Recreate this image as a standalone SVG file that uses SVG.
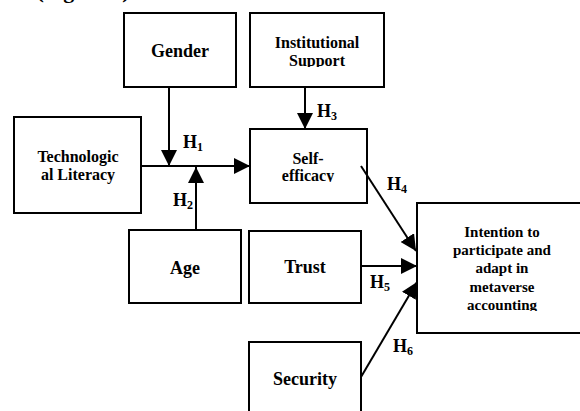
<svg xmlns="http://www.w3.org/2000/svg" width="580" height="411" viewBox="0 0 580 411">
<style>
.box{fill:#fff;stroke:#000;stroke-width:2}
.t{font-family:"Liberation Serif","Times New Roman",serif;font-weight:bold;fill:#000;text-anchor:middle}
.big{font-size:18px}
.mid{font-size:16px}
.sm{font-size:15px}
.lab{font-family:"Liberation Serif","Times New Roman",serif;font-weight:bold;font-size:18px;fill:#000}
.sub{font-size:12px}
.ln{stroke:#000;stroke-width:2;fill:none}
</style>
<defs>
<marker id="ah" markerUnits="userSpaceOnUse" markerWidth="16" markerHeight="16" refX="16" refY="8" orient="auto" viewBox="0 0 16 16">
<path d="M0,0 L16,8 L0,16 z" fill="#000"/>
</marker>
<clipPath id="c1"><rect x="250" y="13" width="134" height="54"/></clipPath>
<clipPath id="c2"><rect x="250" y="129" width="117" height="53"/></clipPath>
<clipPath id="c3"><rect x="417" y="203" width="163" height="108"/></clipPath>
</defs>
<text class="t" x="83" y="-2" style="font-size:22px">(Figure 1)</text>
<g id="gender"><rect class="box" x="124" y="13" width="112" height="74"/><text class="t big" x="180" y="57">Gender</text></g>
<g id="institutional-support"><rect class="box" x="250" y="13" width="134" height="74"/><g clip-path="url(#c1)"><text class="t mid" x="317" y="48">Institutional</text><text class="t mid" x="317" y="66">Support</text></g></g>
<g id="tech-literacy"><rect class="box" x="14" y="117" width="127" height="96"/><text class="t mid" x="78" y="162">Technologic</text><text class="t mid" x="78" y="180">al Literacy</text></g>
<g id="self-efficacy"><rect class="box" x="250" y="129" width="117" height="74"/><g clip-path="url(#c2)"><text class="t mid" x="308" y="164">Self-</text><text class="t mid" x="308" y="181">efficacy</text></g></g>
<g id="age"><rect class="box" x="129" y="230" width="112" height="73"/><text class="t big" x="185" y="274">Age</text></g>
<g id="trust"><rect class="box" x="249" y="231" width="112" height="72"/><text class="t big" x="305" y="273">Trust</text></g>
<g id="security"><rect class="box" x="249" y="342" width="112" height="80"/><text class="t big" x="305" y="385">Security</text></g>
<g id="intention"><rect class="box" x="417" y="203" width="170" height="130"/><g clip-path="url(#c3)"><text class="t sm" x="502" y="237">Intention to</text><text class="t sm" x="502" y="255">participate and</text><text class="t sm" x="502" y="273">adapt in</text><text class="t sm" x="502" y="292">metaverse</text><text class="t sm" x="502" y="310">accounting</text></g></g>
<g id="connectors">
<line class="ln" x1="141" y1="166" x2="250" y2="166" marker-end="url(#ah)"/>
<line class="ln" x1="169" y1="87" x2="169" y2="166" marker-end="url(#ah)"/>
<line class="ln" x1="196" y1="230" x2="196" y2="167" marker-end="url(#ah)"/>
<line class="ln" x1="305" y1="87" x2="305" y2="129" marker-end="url(#ah)"/>
<line class="ln" x1="361" y1="166" x2="416" y2="251" marker-end="url(#ah)"/>
<line class="ln" x1="361" y1="266" x2="417" y2="266" marker-end="url(#ah)"/>
<line class="ln" x1="361" y1="377" x2="417" y2="282" marker-end="url(#ah)"/>
</g>
<g id="labels">
<text class="lab" x="183" y="148">H<tspan class="sub" dy="3">1</tspan></text>
<text class="lab" x="173" y="206">H<tspan class="sub" dy="3">2</tspan></text>
<text class="lab" x="317" y="117">H<tspan class="sub" dy="3">3</tspan></text>
<text class="lab" x="387" y="190">H<tspan class="sub" dy="3">4</tspan></text>
<text class="lab" x="370" y="288">H<tspan class="sub" dy="3">5</tspan></text>
<text class="lab" x="393" y="352">H<tspan class="sub" dy="3">6</tspan></text>
</g>
</svg>
